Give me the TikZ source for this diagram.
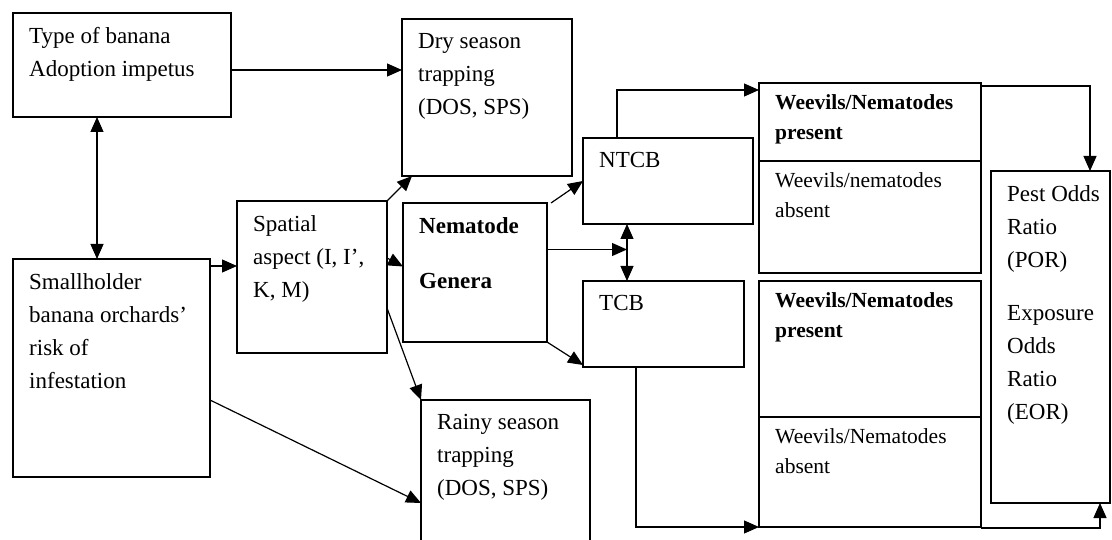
\documentclass[tikz,border=0pt]{standalone}
\usepackage{fontspec}
\setmainfont{Liberation Serif}
\usetikzlibrary{arrows.meta,positioning,calc}

\newcommand{\bodysize}{\fontsize{23}{33}\selectfont}
\newcommand{\weevsize}{\fontsize{21.5}{30}\selectfont}

\begin{document}
\begin{tikzpicture}[x=1pt, y=-1pt,
    box/.style={draw, line width=1.4pt, anchor=north west, inner sep=0pt, outer sep=0pt},
    txt/.style={anchor=north west, align=left, inner xsep=16pt, inner ysep=14pt, font=\bodysize},
    wtxt/.style={txt, inner ysep=11pt, font=\weevsize},
    arrow/.style={line width=1.2pt, -{Triangle[length=15pt,width=13pt]}},
    arrows2/.style={line width=1.2pt, {Triangle[length=15pt,width=13pt]}-{Triangle[length=15pt,width=13pt]}}
]
\useasboundingbox (0,0) rectangle (1112,540);

% boxes
\node[box, minimum width=218pt, minimum height=104pt] (type) at (13,13) {};
\node[box, minimum width=170pt, minimum height=157pt] (dry) at (402,19) {};
\node[box, minimum width=197pt, minimum height=218pt] (small) at (13,259) {};
\node[box, minimum width=150pt, minimum height=152pt] (spatial) at (237,201) {};
\node[box, minimum width=144pt, minimum height=139pt] (nem) at (403,203) {};
\node[box, minimum width=169pt, minimum height=170pt] (rainy) at (421,400) {};
\node[box, minimum width=170pt, minimum height=86pt] (ntcb) at (583,138) {};
\node[box, minimum width=161pt, minimum height=86pt] (tcb) at (583,281) {};
\node[box, minimum width=222pt, minimum height=78pt] (wp1) at (759,83) {};
\node[box, minimum width=222pt, minimum height=112pt] (wa1) at (759,161) {};
\node[box, minimum width=222pt, minimum height=136pt] (wp2) at (759,281) {};
\node[box, minimum width=222pt, minimum height=110pt] (wa2) at (759,417) {};
\node[box, minimum width=119pt, minimum height=332pt] (pest) at (991,171) {};

% texts
\node[txt] (typetx) at (type.north west) {Type of banana\\Adoption impetus};
\node[txt] (drytx) at (dry.north west) {Dry season\\trapping\\(DOS, SPS)};
\node[txt] (smalltx) at (small.north west) {Smallholder\\banana orchards’\\risk of\\infestation};
\node[txt] (spatialtx) at (spatial.north west) {Spatial\\aspect (I, I’,\\K, M)};
\node[txt, font=\bodysize\bfseries] (nemtx) at (nem.north west) {Nematode\\[22pt]Genera};
\node[txt] (rainytx) at (rainy.north west) {Rainy season\\trapping\\(DOS, SPS)};
\node[txt] (ntcbtx) at (ntcb.north west) {NTCB};
\node[txt] (tcbtx) at (tcb.north west) {TCB};
\node[wtxt, font=\weevsize\bfseries] (wp1tx) at (wp1.north west) {Weevils/Nematodes\\present};
\node[wtxt] (wa1tx) at (wa1.north west) {Weevils/nematodes\\absent};
\node[wtxt, font=\weevsize\bfseries] (wp2tx) at (wp2.north west) {Weevils/Nematodes\\present};
\node[wtxt] (wa2tx) at (wa2.north west) {Weevils/Nematodes\\absent};
\node[txt] (pesttx) at (pest.north west) {Pest Odds\\Ratio\\(POR)\\[20pt]Exposure\\Odds\\Ratio\\(EOR)};

% connectors
\draw[arrow] ([yshift=-5pt]type.east) -- ([yshift=-5pt]type.east -| dry.west);
\draw[arrows2] ([xshift=-25pt]type.south) -- ([xshift=-25pt]type.south |- small.north);
\draw[arrow] ([yshift=-7pt]small.north east) -- ([yshift=-7pt]small.north east -| spatial.west);
\draw[arrow] (spatial.north east) -- ([xshift=10pt]dry.south west);
\draw[arrow] ([yshift=19pt]spatial.east) -- ([yshift=6pt]nem.west);
\draw[arrow] ([yshift=-31pt]spatial.east) -- (rainy.north west);
\draw[arrow] ([yshift=-32pt]small.east) -- ([yshift=-18pt]rainy.west);
\draw[arrow] ([xshift=4pt]nem.north east) -- (ntcb.west);
\draw[arrow] (nem.south east) -- ([yshift=2pt]tcb.south west);

\coordinate (nt) at ([xshift=-41pt]ntcb.south);
\coordinate (ng) at ([yshift=23pt]nem.east);
\draw[arrows2] (nt) -- (nt |- tcb.north);
\draw[arrow] (ng) -- (ng -| nt);

\draw[arrow] ([xshift=-51pt]ntcb.north) |- ([yshift=32pt]wp1.west);
\draw[arrow] ([xshift=-27.5pt]tcb.south) |- (wa2.south west);
\draw[arrow] ([yshift=-3pt]wp1.north east) -| ([xshift=39.5pt]pest.north);
\draw[arrow] ([yshift=-1pt]wa2.south east) -| ([xshift=49.5pt]pest.south);

\end{tikzpicture}
\end{document}
